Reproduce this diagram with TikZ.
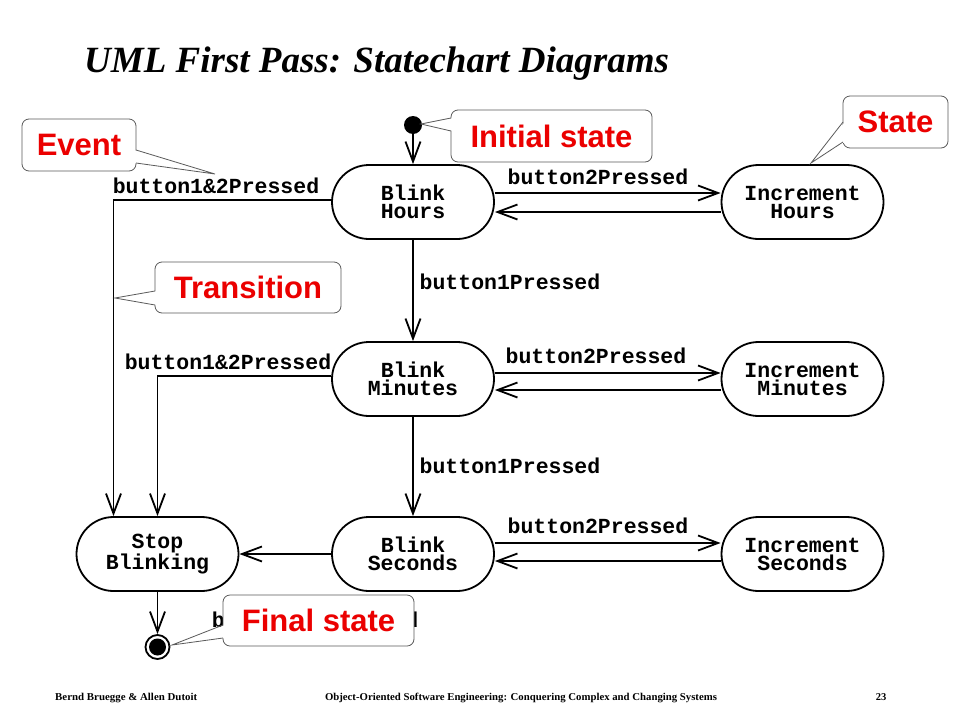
\documentclass[tikz,border=0pt]{standalone}
\usepackage{graphicx}
\usepackage{fontspec}
\setmainfont{Liberation Serif}
\newfontfamily\monof{Liberation Mono}
\newfontfamily\calloutf{Liberation Sans}
\usetikzlibrary{arrows.meta}
\definecolor{callred}{RGB}{235,0,0}
\definecolor{callgray}{RGB}{90,90,90}
\begin{document}
\begin{tikzpicture}[x=1pt,y=-1pt,
  statebox/.style={draw, line width=1.8pt, rectangle, rounded corners=37pt,
    minimum width=162pt, minimum height=74pt, inner sep=0pt, align=center,
    font=\monof\bfseries\fontsize{21.5}{18}\selectfont},
  lbl/.style={inner sep=0pt, font=\monof\bfseries\fontsize{21.5}{18}\selectfont},
  trans/.style={line width=1.8pt, -{Straight Barb[length=20pt,width=15pt]}},
  callbox/.style={draw=callgray, line width=0.8pt, fill=white, rounded corners=7pt,
    inner sep=0pt, font=\calloutf\bfseries\fontsize{31}{31}\selectfont, text=callred},
  callline/.style={draw=callgray, line width=0.8pt, line join=miter},
  foot/.style={inner sep=0pt, anchor=base, font=\bfseries\fontsize{10.5}{12}\selectfont}
]
\useasboundingbox (0,0) rectangle (960,720);
\fill[white] (0,0) rectangle (960,720);

% title
\node[inner sep=0pt, anchor=base west, font=\bfseries\itshape\fontsize{37}{40}\selectfont] (title) at (84,72) {UML First Pass: Statechart Diagrams};

% states
\node[statebox] (bh) at (413,202) {Blink\\Hours};
\node[statebox] (ih) at (802.5,202) {Increment\\Hours};
\node[statebox] (bm) at (413,379) {Blink\\Minutes};
\node[statebox] (im) at (802.5,379) {Increment\\Minutes};
\node[statebox] (sb) at (157.5,554) {Stop\\Blinking};
\node[statebox] (bs) at (413,554) {Blink\\Seconds};
\node[statebox] (is) at (802.5,554) {Increment\\Seconds};

\node[circle, fill=black, minimum size=18pt, inner sep=0pt] (init) at (413,125) {};
\node[circle, draw, fill=white, line width=1.8pt, minimum size=24pt, inner sep=0pt] (final) at (157.5,647) {};
\fill (final.center) circle (8.5pt);

% transitions
\draw[trans] (init) -- (bh);
\draw[trans] ([yshift=9pt]bh.east) -- ([yshift=9pt]ih.west);
\draw[trans] ([yshift=-10pt]ih.west) -- ([yshift=-10pt]bh.east);
\draw[trans] (bh) -- (bm);
\draw[trans] ([yshift=6pt]bm.east) -- ([yshift=6pt]im.west);
\draw[trans] ([yshift=-11pt]im.west) -- ([yshift=-11pt]bm.east);
\draw[trans] (bm) -- (bs);
\draw[trans] ([yshift=11pt]bs.east) -- ([yshift=11pt]is.west);
\draw[trans] ([yshift=-7pt]is.west) -- ([yshift=-7pt]bs.east);
\draw[trans] (bs.west) -- (sb.east);
\draw[trans] ([yshift=2pt]bh.west) -| ([xshift=-44pt]sb.north);
\draw[trans] ([yshift=3pt]bm.west) -| (sb.north);
\draw[trans] (sb) -- (final);

% labels
\node[lbl] (l1) at (216,186) {button1\&2Pressed};
\node[lbl] (l2) at (598,177) {button2Pressed};
\node[lbl] (l3) at (510,282) {button1Pressed};
\node[lbl] (l4) at (228,362) {button1\&2Pressed};
\node[lbl] (l5) at (596,356) {button2Pressed};
\node[lbl] (l6) at (510,466) {button1Pressed};
\node[lbl] (l7) at (598,526) {button2Pressed};
\node[lbl] (l8) at (315,620) {button1\&2Pressed};

% callouts
\node[callbox, minimum width=114pt, minimum height=52pt] (cev) at (79,145) {Event};
\coordinate (evA) at (136,150); \coordinate (evB) at (136,163); \coordinate (evT) at (215,174);
\fill[white] ([xshift=-2pt]evA) -- (evT) -- ([xshift=-2pt]evB) -- cycle;
\draw[callline] (evA) -- (evT) -- (evB);

\node[callbox, minimum width=201pt, minimum height=52pt] (cin) at (551.5,136) {Initial state};
\coordinate (inA) at (451,118); \coordinate (inB) at (451,131); \coordinate (inT) at (421,124);
\fill[white] ([xshift=2pt]inA) -- (inT) -- ([xshift=2pt]inB) -- cycle;
\draw[callline] (inA) -- (inT) -- (inB);

\node[callbox, minimum width=105pt, minimum height=52pt] (cst) at (895.5,122) {State};
\coordinate (stA) at (843,122); \coordinate (stB) at (843,142); \coordinate (stT) at (811,163);
\fill[white] ([xshift=2pt]stA) -- (stT) -- ([xshift=2pt]stB) -- cycle;
\draw[callline] (stA) -- (stT) -- (stB);

\node[callbox, minimum width=186pt, minimum height=51pt] (ctr) at (248,287.5) {Transition};
\coordinate (trA) at (155,291); \coordinate (trB) at (155,305); \coordinate (trT) at (115,298);
\fill[white] ([xshift=2pt]trA) -- (trT) -- ([xshift=2pt]trB) -- cycle;
\draw[callline] (trA) -- (trT) -- (trB);

\node[callbox, minimum width=191pt, minimum height=51pt] (cfi) at (318.5,620.5) {Final state};
\coordinate (fiA) at (223,625); \coordinate (fiB) at (223,638); \coordinate (fiT) at (172,645);
\fill[white] ([xshift=2pt]fiA) -- (fiT) -- ([xshift=2pt]fiB) -- cycle;
\draw[callline] (fiA) -- (fiT) -- (fiB);

% footer
\node[foot, anchor=base west] (f1) at (55,700) {\resizebox{142pt}{\height}{Bernd Bruegge \& Allen Dutoit}};
\node[foot] (f2) at (521,700) {\resizebox{392pt}{\height}{Object-Oriented Software Engineering: Conquering Complex and Changing Systems}};
\node[foot] (f3) at (881,700) {23};
\end{tikzpicture}
\end{document}
